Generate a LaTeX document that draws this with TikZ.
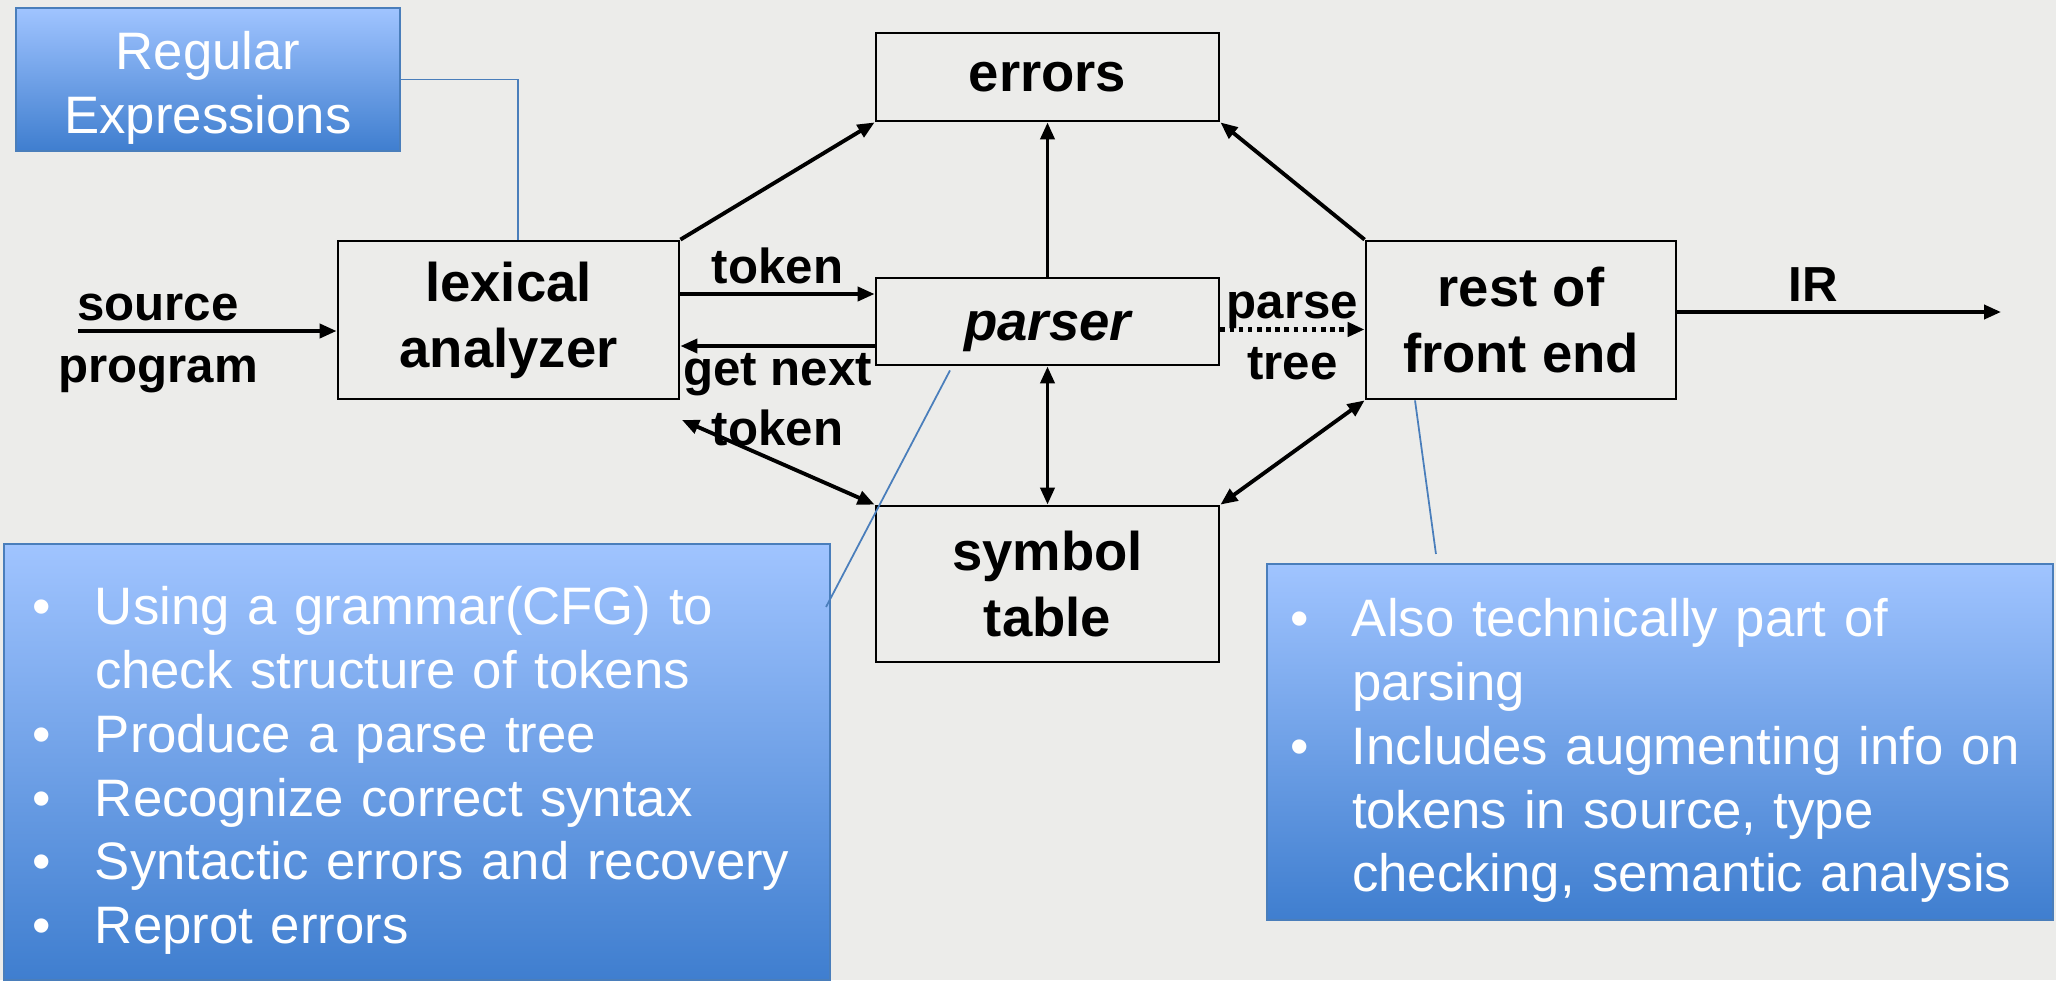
\documentclass[tikz,border=0pt]{standalone}
\usepackage{fontspec}
\setmainfont{Liberation Sans}
\usetikzlibrary{arrows.meta,calc,positioning}
\definecolor{PageBg}{HTML}{ECECEA}
\definecolor{NoteTop}{HTML}{A0C4FF}
\definecolor{NoteBot}{HTML}{3F7ECF}
\definecolor{NoteEdge}{HTML}{4A7EBB}
\definecolor{Ink}{HTML}{000000}
\newcommand{\bl}{\makebox[0.62cm][l]{\textbullet}}
\newcommand{\ind}{\hspace*{0.62cm}}
\tikzset{
  blk/.style={rectangle, draw=Ink, line width=0.8pt, inner sep=0pt, align=center,
              font=\fontsize{15.5}{18.8}\selectfont\bfseries},
  lbl/.style={font=\fontsize{14}{17}\selectfont\bfseries, inner sep=0pt, align=center},
  flow/.style={-{Triangle[length=1.7mm, width=1.4mm]}, line width=1.1pt, draw=Ink},
  both/.style={{Triangle[length=1.7mm, width=1.4mm]}-{Triangle[length=1.7mm, width=1.4mm]}, line width=1.1pt, draw=Ink},
  note/.style={draw=NoteEdge, line width=0.6pt, top color=NoteTop, bottom color=NoteBot,
               text=white, inner sep=0pt, font=\fontsize{15}{18.2}\selectfont,
               execute at begin node={\rule{0pt}{0.55cm}}},
  callout/.style={draw=NoteEdge, line width=0.5pt},
}

\begin{document}
\begin{tikzpicture}
\fill[PageBg] (0,0) rectangle (20.56,9.80);
\useasboundingbox (0,0) rectangle (20.56,9.80);
% ===================== blocks
\node[blk, minimum width=3.41cm, minimum height=1.58cm] (lex) at (5.085,6.60) {lexical\\analyzer};
\node[blk, minimum width=3.43cm, minimum height=0.88cm] (err) at (10.475,9.03) {errors};
\node[blk, minimum width=3.43cm, minimum height=0.87cm] (par) at (10.475,6.585) {\raisebox{-0.1cm}[\height][\depth]{\itshape parser}};
\node[blk, minimum width=3.43cm, minimum height=1.56cm] (sym) at (10.475,3.96) {symbol\\table};
\node[blk, minimum width=3.10cm, minimum height=1.58cm] (rest) at (15.21,6.60) {rest of\\front end};
% input and output
\coordinate (srcin) at (0.78,6.49);
\coordinate (irend) at (20.01,6.68);
\node[lbl, anchor=base] (srcA) at (1.58,6.60) {source};
\node[lbl, anchor=base] (srcB) at (1.58,5.98) {program};
\draw[flow] (srcin) -- (srcin -| lex.west);
\draw[flow] (rest.east |- irend) -- node[lbl, pos=0.42, anchor=base, yshift=0.11cm] {IR} (irend);
% ===================== connectors
\draw[flow] ([yshift=0.26cm]lex.east) -- node[lbl, anchor=base, yshift=0.11cm] {token} ([yshift=0.26cm]lex.east -| par.west);
\draw[flow] ([yshift=-0.26cm]lex.east -| par.west) -- node[lbl, below=1.5pt] {get next\\token} ([yshift=-0.26cm]lex.east);
\draw[flow] (lex.north east) -- (err.south west);
\draw[flow] (par.north) -- (err.south);
\draw[flow] (rest.north west) -- (err.south east);
\draw[flow, line width=1.3pt, dash pattern=on 1.3pt off 1.3pt] ([yshift=-0.08cm]par.east) -- node[lbl, anchor=base, yshift=0.11cm] {parse} node[lbl, anchor=base, yshift=-0.50cm] {tree} ([yshift=-0.08cm]par.east -| rest.west);
\coordinate (lexlow) at (6.82,5.60);
\draw[both] (par.south) -- (sym.north);
\draw[both] (lexlow) -- (sym.north west);
\draw[both] (rest.south west) -- (sym.north east);
% ===================== notes
\node[note, minimum width=3.84cm, minimum height=1.43cm, text width=3.84cm, align=center] (regex) at (2.08,9.005) {Regular\\Expressions};
\node[note, minimum width=8.26cm, minimum height=4.36cm, text width=7.68cm, align=left] (gram) at (4.17,2.18)
  {\bl Using a grammar(CFG) to\\
   \ind check structure of tokens\\
   \bl Produce a parse tree\\
   \bl Recognize correct syntax\\
   \bl Syntactic errors and recovery\\
   \bl Reprot errors};
\node[note, minimum width=7.86cm, minimum height=3.56cm, text width=7.40cm, align=left] (sema) at (16.60,2.38)
  {\bl Also technically part of\\
   \ind parsing\\
   \bl Includes augmenting info on\\
   \ind tokens in source, type\\
   \ind checking, semantic analysis};
\coordinate (pnote) at ([xshift=-0.05cm, yshift=-0.64cm]gram.north east);
\coordinate (snote) at ([xshift=1.70cm, yshift=0.09cm]sema.north west);
\draw[callout] (regex.east) -| ([xshift=0.095cm]lex.north);
\draw[callout] ([xshift=-0.975cm, yshift=-0.04cm]par.south) -- (pnote);
\draw[callout] ([xshift=-1.06cm]rest.south) -- (snote);
\end{tikzpicture}
\end{document}
